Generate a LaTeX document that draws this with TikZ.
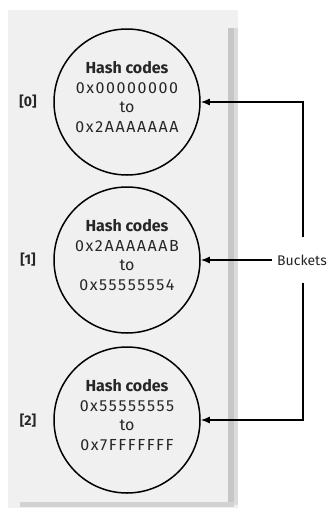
\documentclass[tikz,border=0pt]{standalone}
\usepackage{fontspec}
\setmainfont{Fira Sans}
\usetikzlibrary{arrows.meta}
\begin{document}
\begin{tikzpicture}[x=1pt,y=-1pt,
  bucket/.style={circle,draw=black,line width=1.5pt,minimum size=146pt,inner sep=0pt},
  hashtxt/.style={align=center,font=\fontsize{16}{19.5}\selectfont,text=black!85},
  idx/.style={font=\bfseries\fontsize{14}{15}\selectfont,text=black!85},
  conn/.style={line width=1.4pt,-{Latex[length=9pt,width=7pt]}}]
\useasboundingbox (0,0) rectangle (333,515);
\fill[white] (0,0) rectangle (333,515);
% panel
\fill[gray!12] (8,10) rectangle (238,508);
\fill[gray!45] (228,28) rectangle (234,505);
\fill[gray!28] (234,28) rectangle (238,505);
\fill[gray!35] (20,502) rectangle (234,507);
% buckets
\node[bucket] (c0) at (127,102) {};
\node[bucket] (c1) at (127,260) {};
\node[bucket] (c2) at (127,420) {};
\node[hashtxt] (t0) at (127,97) {{\bfseries Hash codes}\\\addfontfeature{LetterSpace=10}0x00000000\\to\\\addfontfeature{LetterSpace=10}0x2AAAAAAA};
\node[hashtxt] (t1) at (127,255) {{\bfseries Hash codes}\\\addfontfeature{LetterSpace=10}0x2AAAAAAB\\to\\\addfontfeature{LetterSpace=10}0x55555554};
\node[hashtxt] (t2) at (127,415) {{\bfseries Hash codes}\\\addfontfeature{LetterSpace=10}0x55555555\\to\\\addfontfeature{LetterSpace=10}0x7FFFFFFF};
\node[idx] (i0) at (28,102) {[0]};
\node[idx] (i1) at (28,260) {[1]};
\node[idx] (i2) at (28,421) {[2]};
% label and connectors
\node[font=\fontsize{14}{16}\selectfont,text=black!85,minimum height=45pt,inner xsep=5pt] (b) at (302,260) {Buckets};
\draw[conn] (b.north -| 303,0) |- (c0.east);
\draw[conn] (b.south -| 303,0) |- (c2.east);
\draw[conn] (b.west) -- (c1.east);
\end{tikzpicture}
\end{document}
